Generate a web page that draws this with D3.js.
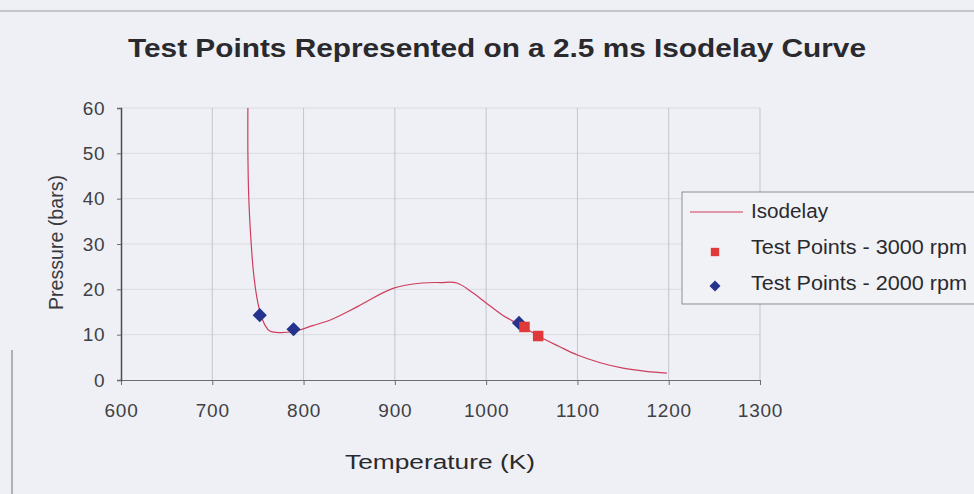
<!DOCTYPE html>
<html>
<head>
<meta charset="utf-8">
<script src="https://cdn.jsdelivr.net/npm/d3@7"></script>
<style>
  html, body { margin: 0; padding: 0; background: #eef0f5; }
  svg { display: block; font-family: "Liberation Sans", Arial, sans-serif; }
</style>
</head>
<body>
<div id="chart"></div>
<script>
    // isodelay curve (2.5 ms)
    var isoT = [739, 739, 740, 742, 745, 749, 753, 758, 763, 770, 789, 810, 830, 860, 898, 930, 950, 968, 985, 1000, 1018, 1040, 1058, 1080, 1100, 1125, 1150, 1175, 1198];
    var isoP = [60, 50, 40, 32, 24, 18, 14.5, 12, 10.8, 10.5, 10.7, 12, 13.3, 16.3, 20.2, 21.4, 21.5, 21.4, 19.3, 17, 14.3, 11.8, 9.6, 7.4, 5.5, 3.8, 2.6, 1.9, 1.5];

    var rpm3000T = [1042, 1057];
    var rpm3000P = [11.7, 9.7];

    var rpm2000T = [752, 789, 1036];
    var rpm2000P = [14.3, 11.2, 12.6];

    var xTicks = [600, 700, 800, 900, 1000, 1100, 1200, 1300];
    var yTicks = [0, 10, 20, 30, 40, 50, 60];
    var xTickText = ['600', '700', '800', '900', '1000', '1100', '1200', '1300'];

    var width = 974;
    var height = 494;

    var svg = d3.select('#chart')
        .append('svg')
        .attr('width', width)
        .attr('height', height);

    var x = d3.scaleLinear().domain([600, 1300]).range([121, 760]);
    var y = d3.scaleLinear().domain([0, 60]).range([380, 108]);

    // frame edges of the pasted chart
    svg.append('line').attr('x1', 0).attr('x2', width).attr('y1', 11).attr('y2', 11)
        .attr('stroke', '#b4b7bd').attr('stroke-width', 1.5);
    svg.append('line').attr('x1', 12).attr('x2', 12).attr('y1', 350).attr('y2', height)
        .attr('stroke', '#9a9da3').attr('stroke-width', 1.5);

    // gridlines
    svg.append('g').selectAll('line')
        .data(yTicks.filter(function(d) { return d > 0; }))
        .enter().append('line')
        .attr('x1', x(600)).attr('x2', x(1300))
        .attr('y1', function(d) { return y(d); })
        .attr('y2', function(d) { return y(d); })
        .attr('stroke', '#dadce1').attr('stroke-width', 1);

    svg.append('g').selectAll('line')
        .data(xTicks.filter(function(d) { return d > 600; }))
        .enter().append('line')
        .attr('x1', function(d) { return x(d); })
        .attr('x2', function(d) { return x(d); })
        .attr('y1', y(60)).attr('y2', y(0))
        .attr('stroke', '#c3c5ca').attr('stroke-width', 1);

    // axes
    var xAxis = d3.axisBottom(x).tickValues(xTicks).tickSize(5)
        .tickFormat(function(d, i) { return xTickText[i]; });
    var gx = svg.append('g').attr('transform', 'translate(0,' + y(0) + ')').call(xAxis);
    gx.select('.domain').attr('stroke', '#6a6d72');
    gx.selectAll('.tick line').attr('stroke', '#6a6d72');
    gx.selectAll('text').attr('y', 37).attr('dy', 0)
        .attr('font-size', 19).attr('letter-spacing', 0.8).attr('fill', '#404045');

    var yAxis = d3.axisLeft(y).tickValues(yTicks).tickSize(4);
    var gy = svg.append('g').attr('transform', 'translate(' + x(600) + ',0)').call(yAxis);
    gy.select('.domain').attr('stroke', '#4a4d52').attr('stroke-width', 1.5);
    gy.selectAll('.tick line').attr('stroke', '#6a6d72');
    gy.selectAll('text').attr('x', -16).attr('font-size', 19).attr('letter-spacing', 0.5)
        .attr('fill', '#404045');

    // isodelay line
    var line = d3.line()
        .x(function(d) { return x(d[0]); })
        .y(function(d) { return y(d[1]); })
        .curve(d3.curveCatmullRom.alpha(0.5));

    svg.append('path')
        .datum(isoT.map(function(t, i) { return [t, isoP[i]]; }))
        .attr('d', line)
        .attr('fill', 'none')
        .attr('stroke', '#cf3d5e')
        .attr('stroke-width', 1.2);

    // test points
    var sq = d3.symbol().type(d3.symbolSquare).size(110);
    var dia = d3.symbol().type(d3.symbolSquare).size(100);

    svg.append('g').selectAll('path')
        .data(rpm2000T.map(function(t, i) { return [t, rpm2000P[i]]; }))
        .enter().append('path')
        .attr('d', dia)
        .attr('transform', function(d) { return 'translate(' + x(d[0]) + ',' + y(d[1]) + ') rotate(45)'; })
        .attr('fill', '#24348c');

    svg.append('g').selectAll('path')
        .data(rpm3000T.map(function(t, i) { return [t, rpm3000P[i]]; }))
        .enter().append('path')
        .attr('d', sq)
        .attr('transform', function(d) { return 'translate(' + x(d[0]) + ',' + y(d[1]) + ')'; })
        .attr('fill', '#e0393a');

    // titles
    svg.append('text')
        .attr('x', 128).attr('y', 57)
        .attr('font-size', 26).attr('font-weight', 'bold')
        .attr('textLength', 738).attr('lengthAdjust', 'spacingAndGlyphs')
        .attr('fill', '#2a2a2e')
        .text('Test Points Represented on a 2.5 ms Isodelay Curve');

    svg.append('text')
        .attr('x', 345).attr('y', 469)
        .attr('font-size', 20)
        .attr('textLength', 190).attr('lengthAdjust', 'spacingAndGlyphs')
        .attr('fill', '#2a2a2e')
        .text('Temperature (K)');

    svg.append('text')
        .attr('transform', 'translate(63,310) rotate(-90)')
        .attr('font-size', 20)
        .attr('textLength', 135).attr('lengthAdjust', 'spacingAndGlyphs')
        .attr('fill', '#3a3a3e')
        .text('Pressure (bars)');

    // legend
    var legend = svg.append('g').attr('transform', 'translate(682,192)');
    legend.append('rect')
        .attr('width', 320).attr('height', 112)
        .attr('fill', '#f1f2f6')
        .attr('stroke', '#8a8d92');

    legend.append('line')
        .attr('x1', 8).attr('x2', 61).attr('y1', 20).attr('y2', 20)
        .attr('stroke', '#cf3d5e').attr('stroke-width', 1.2);
    legend.append('path').attr('d', d3.symbol().type(d3.symbolSquare).size(70)).attr('fill', '#e0393a')
        .attr('transform', 'translate(33,60)');
    legend.append('path').attr('d', d3.symbol().type(d3.symbolSquare).size(60)).attr('fill', '#24348c')
        .attr('transform', 'translate(33,94) rotate(45)');

    var legendLabels = ['Isodelay', 'Test Points - 3000 rpm', 'Test Points - 2000 rpm'];
    var legendWidths = [77, 216, 216];
    legend.selectAll('.lab')
        .data(legendLabels)
        .enter().append('text')
        .attr('class', 'lab')
        .attr('x', 69)
        .attr('y', function(d, i) { return 26 + i * 36; })
        .attr('font-size', 20)
        .attr('textLength', function(d, i) { return legendWidths[i]; })
        .attr('lengthAdjust', 'spacingAndGlyphs')
        .attr('fill', '#2a2a2e')
        .text(function(d) { return d; });
</script>
</body>
</html>
